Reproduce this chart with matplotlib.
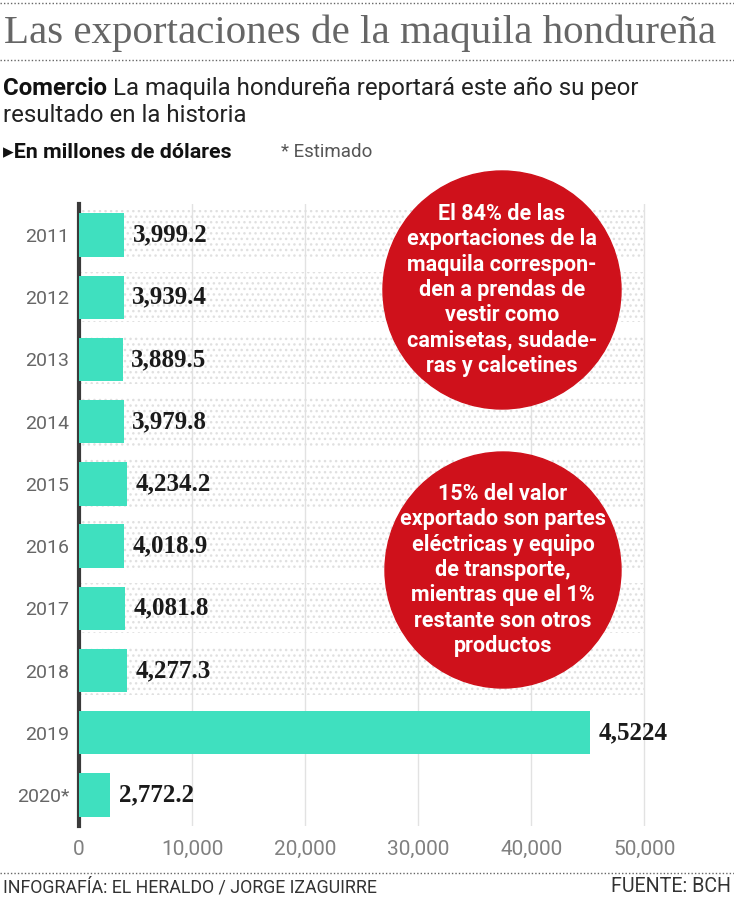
import matplotlib
matplotlib.use("Agg")
import matplotlib.pyplot as plt
from matplotlib.patches import Circle
from matplotlib.lines import Line2D

# Data (the 2019 bar is drawn at 45,224 in the original)
years = ["2011", "2012", "2013", "2014", "2015", "2016", "2017", "2018", "2019", "2020*"]
values = [3999.2, 3939.4, 3889.5, 3979.8, 4234.2, 4018.9, 4081.8, 4277.3, 45224, 2772.2]
value_labels = ["3,999.2", "3,939.4", "3,889.5", "3,979.8", "4,234.2",
                "4,018.9", "4,081.8", "4,277.3", "4,5224", "2,772.2"]
ticks = [0, 10000, 20000, 30000, 40000, 50000]
tick_labels = ["0", "10,000", "20,000", "30,000", "40,000", "50,000"]
dotted_years = years[:8]
band_end = 50000

title = "Las exportaciones de la maquila hondureña"
kicker = "Comercio"
subtitle_1 = " La maquila hondureña reportará este año su peor"
subtitle_2 = "resultado en la historia"
unit = "\u25b8En millones de dólares"
estimate = "* Estimado"
note_1 = ("El 84% de las\nexportaciones de la\nmaquila correspon-\nden a prendas de\n"
          "vestir como\ncamisetas, sudade-\nras y calcetines")
note_2 = ("15% del valor\nexportado son partes\neléctricas y equipo\nde transporte,\n"
          "mientras que el 1%\nrestante son otros\nproductos")
credit = "INFOGRAFÍA: EL HERALDO / JORGE IZAGUIRRE"
source = "FUENTE: BCH"

W, H = 734, 900
fig = plt.figure(figsize=(W / 100, H / 100), dpi=100)
renderer = fig.canvas.get_renderer()


def fx(px):
    return px / W


def fy(py):
    return 1 - py / H


def fit(t, width_px):
    w = t.get_window_extent(renderer).width
    t.set_fontsize(t.get_fontsize() * width_px / w)
    return t


# Header
fit(fig.text(fx(4), fy(33), title, va="center", ha="left", fontsize=30,
             fontfamily="Liberation Serif", color="#666666"), 713)

k = fig.text(fx(3), fy(95), kicker, va="baseline", ha="left", fontsize=17.3,
             fontfamily="Roboto", fontweight="bold", color="#111111")
kw = k.get_window_extent(renderer).width
fig.text(fx(3 + kw), fy(95), subtitle_1, va="baseline", ha="left", fontsize=17.3,
         fontfamily="Roboto", color="#222222")
fig.text(fx(3), fy(122), subtitle_2, va="baseline", ha="left", fontsize=17.3,
         fontfamily="Roboto", color="#222222")

fit(fig.text(fx(3), fy(152), unit, va="center", ha="left", fontsize=13,
             fontfamily=["Roboto", "DejaVu Sans"], fontweight="bold", color="#111111"), 228)
fig.text(fx(281), fy(152), estimate, va="center", ha="left", fontsize=13.5,
         fontfamily="Roboto", color="#555555")

for y in [3, 60, 873]:
    fig.add_artist(Line2D([0, 1], [fy(y), fy(y)], transform=fig.transFigure,
                          color="#666666", lw=1.0, linestyle=(0, (1, 1.5))))

# Chart
ax = fig.add_axes([fx(79), fy(826), fx(588), (826 - 204) / H])
pos = list(range(len(years)))
ax.barh(range(len(dotted_years)), [band_end] * len(dotted_years), height=0.8,
        facecolor="none", edgecolor="#e0e0e0", hatch="...", linewidth=0, zorder=1)
ax.barh(pos, values, height=0.7, color="#3fe0bf", zorder=3)

for i, (v, lbl) in enumerate(zip(values, value_labels)):
    ax.annotate(lbl, (v, i), xytext=(6, 0), textcoords="offset points",
                va="center", ha="left", fontsize=18, fontweight="bold",
                fontfamily="Liberation Serif", color="#1a1a1a", zorder=4)

ax.set_xlim(0, 52000)
ax.set_ylim(9.5, -0.5)
ax.set_xticks(ticks, tick_labels)
ax.set_yticks(pos, years)
ax.grid(axis="x", color="#e2e2e2", lw=1)
ax.set_axisbelow(True)
for s in ["top", "right", "bottom"]:
    ax.spines[s].set_visible(False)
ax.spines["left"].set_color("#3a3a3a")
ax.spines["left"].set_linewidth(3)
ax.tick_params(axis="x", length=0, pad=10, labelsize=15, labelcolor="#808080")
ax.tick_params(axis="y", length=0, pad=7, labelsize=14, labelcolor="#666666")
for lab in ax.get_xticklabels() + ax.get_yticklabels():
    lab.set_fontfamily("Roboto")

# Red callouts
for (cx, cy, r), note in [((502, 290, 119), note_1), ((503, 570, 118), note_2)]:
    fig.add_artist(Circle((cx / 100, (H - cy) / 100), r / 100,
                          transform=fig.dpi_scale_trans, color="#cf111b", zorder=5))
    fig.text(fx(cx), fy(cy), note, ha="center", va="center", color="white",
             fontsize=15.5, fontweight="bold", fontfamily="Roboto",
             linespacing=1.2, zorder=6)

# Footer
cr = fit(fig.text(fx(3), fy(887), credit, va="center", ha="left", fontsize=12,
                  fontfamily="Roboto", color="#333333"), 374)
fig.text(fx(731), fy(887), source, va="center", ha="right", fontsize=cr.get_fontsize() * 1.1,
         fontfamily="Roboto", color="#333333")

fig.savefig("out.png", dpi=100)
